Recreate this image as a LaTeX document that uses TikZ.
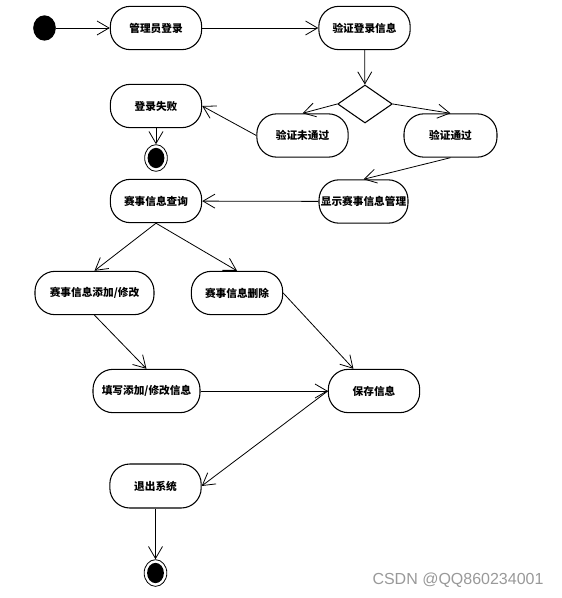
\documentclass[tikz,border=0pt]{standalone}
\usepackage{fontspec}
\newfontfamily\cjk{Noto Sans CJK SC}
\newfontfamily\wmfont{Liberation Sans}
\usepackage{tikz}
\usetikzlibrary{arrows.meta,shapes.geometric}

\begin{document}
\begin{tikzpicture}[x=0.75pt,y=-0.75pt,
  act/.style={draw,line width=0.8pt,rounded corners=15pt,minimum width=68.5pt,minimum height=32.5pt,inner xsep=1pt,font=\cjk\bfseries\fontsize{8}{10}\selectfont},
  flow/.style={line width=0.6pt,-{Straight Barb[length=9pt,width=10.5pt]}},
  startpt/.style={ellipse,fill=black,minimum width=17pt,minimum height=19pt,inner sep=0pt},
  endpt/.style={ellipse,draw,line width=0.6pt,minimum width=17pt,minimum height=20pt,inner sep=0pt,
    path picture={\fill (path picture bounding box.center) ellipse (6.3pt and 7.6pt);}},
  choice/.style={diamond,draw,line width=0.8pt,minimum width=41pt,minimum height=28.5pt,inner sep=0pt}]
\useasboundingbox (0,0) rectangle (561,598);

\node[startpt] (start) at (44.5,28) {};
\node[act] (login) at (156,28) {管理员登录};
\node[act] (verify) at (364.5,28) {验证登录信息};
\node[choice] (dia) at (365,104) {};
\node[act] (nopass) at (302.5,135.5) {验证未通过};
\node[act,minimum width=69.75pt] (pass) at (450.5,135.5) {验证通过};
\node[act] (fail) at (156,106) {登录失败};
\node[endpt] (end1) at (156,158) {};
\node[act,minimum width=66.75pt] (show) at (363.5,201.5) {显示赛事信息管理};
\node[act] (query) at (156,201) {赛事信息查询};
\node[act,minimum width=89.25pt] (add) at (94.5,293) {赛事信息添加/修改};
\node[act] (del) at (237,293) {赛事信息删除};
\node[act,minimum width=80.25pt] (write) at (146.5,391) {填写添加/修改信息};
\node[act] (save) at (374,391) {保存信息};
\node[act,minimum height=33pt] (quit) at (155.5,486) {退出系统};
\node[endpt] (end2) at (155.5,573) {};

\draw[flow] (start) -- (login);
\draw[flow] (login) -- (verify);
\draw[flow] (verify) -- (dia);
\draw[flow] (dia.west) -- (nopass.north);
\draw[flow] (dia.east) -- (pass.north);
\draw[flow] (nopass.west) -- (fail.east);
\draw[flow] (fail) -- (end1);
\draw[flow] (pass.south) -- (show.north);
\draw[flow] (show) -- (query);
\draw[flow] (query.south) -- (add.north);
\draw[flow] (query.south) -- (del.north);
\draw[flow] (add.south) -- (write.north);
\draw[flow] (del.east) -- (save);
\draw[flow] (write) -- (save);
\draw[flow] (save.west) -- (quit.east);
\draw[flow] (quit) -- (end2);

% watermark
\node[text=black!40,font=\wmfont\fontsize{12}{14}\selectfont] (wm) at (458,580) {CSDN @QQ860234001};
\end{tikzpicture}
\end{document}
